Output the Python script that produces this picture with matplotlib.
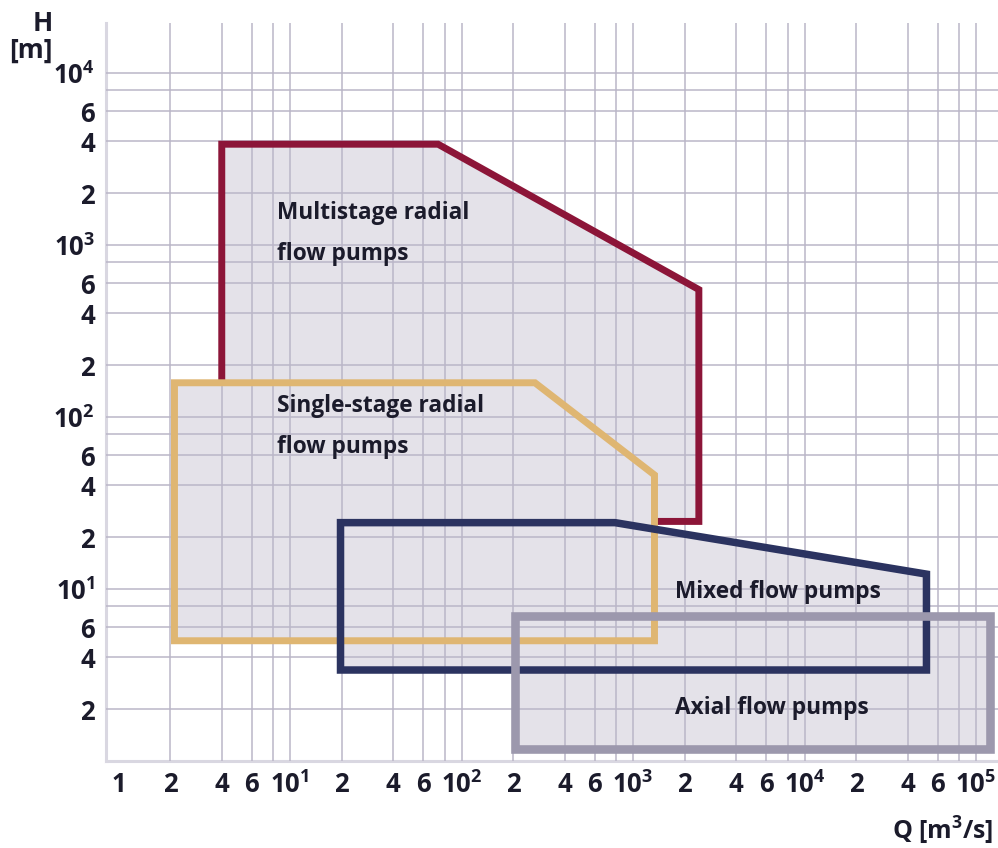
import matplotlib
matplotlib.use("Agg")
import matplotlib.pyplot as plt
from matplotlib.ticker import FixedLocator, FixedFormatter, NullFormatter
from matplotlib.patches import Polygon
import numpy as np

plt.rcParams['font.family'] = ['Open Sans', 'DejaVu Sans']
plt.rcParams['font.weight'] = 'bold'
plt.rcParams['mathtext.default'] = 'regular'

# ---- data (Q in m^3/s, H in m) ----
multistage_Q = [4.0, 4.0, 73, 2420, 2420, 1334]
multistage_H = [158, 3850, 3850, 550, 24.7, 24.7]

single_Q = [2.12, 2.12, 268, 1334, 1334]
single_H = [5.0, 158, 158, 46, 5.0]

mixed_Q = [19.7, 19.7, 785, 51400, 51400]
mixed_H = [3.38, 24.3, 24.3, 12.2, 3.38]

axial_Q = [206, 206, 121000, 121000]
axial_H = [1.17, 7.0, 7.0, 1.17]

region_names = ["Multistage radial\nflow pumps", "Single-stage radial\nflow pumps",
                "Mixed flow pumps", "Axial flow pumps"]
label_Q = [8.4, 8.4, 1758, 1758]
label_H = [1166, 87.5, 9.6, 2.03]

x_tick_vals = [1, 2, 4, 6, 10, 20, 40, 60, 100, 200, 400, 600, 1000,
               2000, 4000, 6000, 10000, 20000, 40000, 60000, 100000]
x_tick_labels = ["1", "2", "4", "6", "10$^{1}$", "2", "4", "6", "10$^{2}$", "2", "4", "6", "10$^{3}$",
                 "2", "4", "6", "10$^{4}$", "2", "4", "6", "10$^{5}$"]
y_tick_vals = [2, 4, 6, 10, 20, 40, 60, 100, 200, 400, 600, 1000,
               2000, 4000, 6000, 10000]
y_tick_labels = ["2", "4", "6", "10$^{1}$", "2", "4", "6", "10$^{2}$", "2", "4", "6", "10$^{3}$",
                 "2", "4", "6", "10$^{4}$"]
grid_extra = [8, 80, 800, 8000, 80000]

# ---- styling ----
fill_color = '#e4e2e9'
edge_colors = ['#8c1538', '#dfb672', '#2b3360', '#9c98ad']
edge_widths = [5.0, 5.0, 5.4, 6.2]
grid_color = '#bab6c8'
text_color = '#1b1b2b'

fig = plt.figure(figsize=(9.98, 8.48), dpi=100)
ax = fig.add_axes([106/998, 87/848, 892/998, 738/848])
ax.set_xscale('log')
ax.set_yscale('log')
ax.set_xlim(0.8454, 134300)
ax.set_ylim(1, 19500)

ax.xaxis.set_major_locator(FixedLocator(x_tick_vals))
ax.xaxis.set_major_formatter(FixedFormatter(x_tick_labels))
ax.xaxis.set_minor_locator(FixedLocator(grid_extra))
ax.xaxis.set_minor_formatter(NullFormatter())
ax.yaxis.set_major_locator(FixedLocator(y_tick_vals))
ax.yaxis.set_major_formatter(FixedFormatter(y_tick_labels))
ax.yaxis.set_minor_locator(FixedLocator(grid_extra))
ax.yaxis.set_minor_formatter(NullFormatter())

ax.set_axisbelow('line')
ax.grid(True, which='both', color=grid_color, linewidth=1.1)
ax.tick_params(which='both', length=0)
ax.tick_params(axis='x', pad=7, labelsize=18.5, labelcolor=text_color)
ax.tick_params(axis='y', pad=8, labelsize=18.5, labelcolor=text_color)
ax.xaxis.get_gridlines()[0].set_visible(False)

for s in ['top', 'right']:
    ax.spines[s].set_visible(False)
for s in ['left', 'bottom']:
    ax.spines[s].set_color('#d9d7e1')
    ax.spines[s].set_linewidth(2.2)
    ax.spines[s].set_zorder(0.6)

regions = [(multistage_Q, multistage_H), (single_Q, single_H),
           (mixed_Q, mixed_H), (axial_Q, axial_H)]

# fills
for Q, H in regions:
    ax.add_patch(Polygon(np.column_stack([Q, H]), closed=True,
                         facecolor=fill_color, edgecolor='none', zorder=1))

# outlines (multistage boundary is open where it disappears behind the single-stage area)
for i, (Q, H) in enumerate(regions):
    if i == 0:
        ax.plot(Q, H, color=edge_colors[i], lw=edge_widths[i],
                solid_joinstyle='miter', solid_capstyle='butt', zorder=2 + i)
    else:
        ax.add_patch(Polygon(np.column_stack([Q, H]), closed=True, facecolor='none',
                             edgecolor=edge_colors[i], lw=edge_widths[i],
                             joinstyle='miter', zorder=2 + i))

for name, q, h in zip(region_names, label_Q, label_H):
    ax.text(q, h, name, ha='left', va='center', fontsize=16.3, fontweight='bold',
            color=text_color, linespacing=1.94, zorder=10)

fig.text(53/998, 1 - 10/848, "H\n[m]", ha='right', va='top', fontsize=19,
         fontweight='bold', color=text_color, linespacing=1.0)
fig.text(993/998, 1 - 830/848, "Q [m$^{3}$/s]", ha='right', va='center', fontsize=18,
         fontweight='bold', color=text_color)

fig.savefig('out.png', dpi=100)
